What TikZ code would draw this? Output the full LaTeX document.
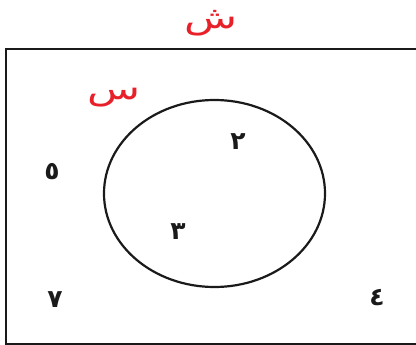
\documentclass[tikz,border=0pt]{standalone}
\usepackage{fontspec}
\usepackage{tikz}
\usetikzlibrary{positioning}
\newfontfamily\arabicfont[Script=Arabic]{DejaVu Sans}
\TeXXeTstate=1
\usepackage{xcolor}
\definecolor{setred}{HTML}{E8202A}
\definecolor{ink}{HTML}{1A1A1A}

\begin{document}
\begin{tikzpicture}[x=1pt, y=-1pt,
    digit/.style={text=ink, font=\arabicfont\bfseries\fontsize{25}{27}\selectfont, inner sep=0pt},
    setname/.style={text=setred, font=\arabicfont\fontsize{31}{33}\selectfont, inner sep=0pt, xscale=1.4}]
      \useasboundingbox (0,0) rectangle (416,345);
      % Universal set frame (right edge lies off the page)
      \draw[ink, line width=2.6pt] (430,49) -- (6,49) -- (6,344) -- (430,344);
      % Set S
      \draw[ink, line width=2.2pt] (214.5,193.5) ellipse (110.5 and 93.5);
      % Set names
      \node[setname] (universe) at (211,23) {\beginR ش\endR};
      \node[setname] (setS) at (114,98) {\beginR س\endR};
      % Elements
      \node[digit] (two) at (238,142) {\beginR ٢\endR};
      \node[digit] (three) at (178,232) {\beginR ٣\endR};
      \node[digit] (five) at (52,172) {\beginR ٥\endR};
      \node[digit] (seven) at (55,300) {\beginR ٧\endR};
      \node[digit] (four) at (377,298) {\beginR ٤\endR};
    \end{tikzpicture}
\end{document}
